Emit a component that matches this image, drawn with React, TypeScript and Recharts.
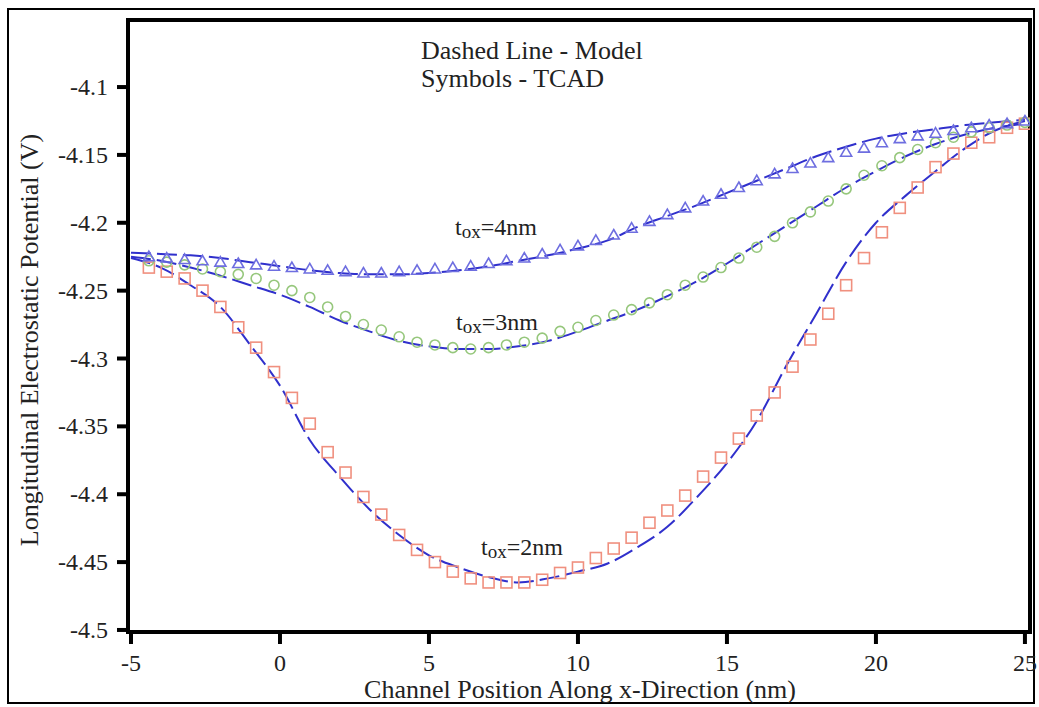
import { ComposedChart, Line, Scatter, XAxis, YAxis, ReferenceArea } from 'recharts';

// TCAD sample positions (nm)
const tcadX = [
  -4.4, -3.8, -3.2, -2.6, -2.0, -1.4, -0.8, -0.2, 0.4, 1.0,
  1.6, 2.2, 2.8, 3.4, 4.0, 4.6, 5.2, 5.8, 6.4, 7.0,
  7.6, 8.2, 8.8, 9.4, 10.0, 10.6, 11.2, 11.8, 12.4, 13.0,
  13.6, 14.2, 14.8, 15.4, 16.0, 16.6, 17.2, 17.8, 18.4, 19.0,
  19.6, 20.2, 20.8, 21.4, 22.0, 22.6, 23.2, 23.8, 24.4, 25.0,
];

const tcad2nm = [
  -4.233, -4.236, -4.241, -4.25, -4.262, -4.277, -4.292, -4.31, -4.329, -4.348,
  -4.369, -4.384, -4.402, -4.415, -4.43, -4.441, -4.45, -4.457, -4.462, -4.465,
  -4.465, -4.465, -4.463, -4.458, -4.454, -4.447, -4.44, -4.432, -4.421, -4.412,
  -4.401, -4.387, -4.373, -4.359, -4.342, -4.325, -4.306, -4.286, -4.267, -4.246,
  -4.226, -4.207, -4.189, -4.174, -4.159, -4.149, -4.141, -4.137, -4.13, -4.127,
];

const tcad3nm = [
  -4.228, -4.229, -4.231, -4.234, -4.236, -4.238, -4.241, -4.246, -4.25, -4.255,
  -4.262, -4.269, -4.275, -4.279, -4.284, -4.288, -4.29, -4.292, -4.293, -4.292,
  -4.29, -4.288, -4.285, -4.28, -4.277, -4.272, -4.268, -4.264, -4.259, -4.253,
  -4.246, -4.24, -4.233, -4.226, -4.218, -4.21, -4.2, -4.192, -4.184, -4.175,
  -4.165, -4.158, -4.152, -4.146, -4.141, -4.137, -4.133, -4.13, -4.128, -4.126,
];

const tcad4nm = [
  -4.225, -4.226, -4.227, -4.228, -4.229, -4.23, -4.231, -4.232, -4.233, -4.234,
  -4.235, -4.236, -4.237, -4.237, -4.236, -4.235, -4.234, -4.233, -4.232, -4.23,
  -4.228, -4.226, -4.223, -4.22, -4.217, -4.213, -4.209, -4.204, -4.199, -4.194,
  -4.189, -4.184, -4.179, -4.174, -4.169, -4.164, -4.16, -4.156, -4.152, -4.148,
  -4.145, -4.141, -4.138, -4.136, -4.134, -4.132, -4.13, -4.128, -4.127, -4.125,
];

// model positions (nm)
const modelX = [
  -5, -4, -3, -2, -1, 0, 1, 2, 3, 4, 5, 6, 7, 8, 9, 10,
  11, 12, 13, 14, 15, 16, 17, 18, 19, 20, 21, 22, 23, 24, 25,
];

const model2nm = [
  -4.226, -4.233, -4.246, -4.262, -4.29, -4.32, -4.36, -4.387, -4.411, -4.43, -4.445,
  -4.454, -4.461, -4.465, -4.462, -4.457, -4.451, -4.439, -4.424, -4.402, -4.377,
  -4.346, -4.305, -4.267, -4.229, -4.2, -4.18, -4.162, -4.145, -4.132, -4.125,
];

const model3nm = [
  -4.225, -4.228, -4.233, -4.239, -4.246, -4.253, -4.262, -4.272, -4.28, -4.287, -4.291,
  -4.293, -4.293, -4.291, -4.287, -4.28, -4.272, -4.264, -4.254, -4.243, -4.23,
  -4.216, -4.202, -4.188, -4.174, -4.162, -4.151, -4.142, -4.135, -4.13, -4.127,
];

const model4nm = [
  -4.222, -4.223, -4.224, -4.226, -4.229, -4.232, -4.235, -4.237, -4.238, -4.238, -4.237,
  -4.235, -4.232, -4.228, -4.224, -4.219, -4.213, -4.203, -4.195, -4.187, -4.178,
  -4.169, -4.16, -4.151, -4.144, -4.138, -4.134, -4.131, -4.128, -4.126, -4.124,
];

const xTicks = [-5, 0, 5, 10, 15, 20, 25];
const yTicks = [-4.5, -4.45, -4.4, -4.35, -4.3, -4.25, -4.2, -4.15, -4.1];

const X_DOMAIN = [-5.1, 25.17];
const Y_DOMAIN = [-4.5015, -4.0506];

const toPoints = (xs: number[], ys: number[]) => xs.map((x, i) => ({ x, y: ys[i] }));

const SERIF = '"Liberation Serif", "Times New Roman", serif';
const LINE = '#3030cc';
const TEXT = '#222';

const Square = (p: any) => (
  <rect x={p.cx - 5.5} y={p.cy - 5.5} width={11} height={11} fill="none" stroke="#f0907f" strokeWidth={1.6} />
);
const Circle = (p: any) => (
  <circle cx={p.cx} cy={p.cy} r={5} fill="none" stroke="#96c77c" strokeWidth={1.6} />
);
const Triangle = (p: any) => (
  <path
    d={`M${p.cx},${p.cy - 5.5} L${p.cx + 5.5},${p.cy + 4} L${p.cx - 5.5},${p.cy + 4} Z`}
    fill="none"
    stroke="#6e6ee0"
    strokeWidth={1.6}
  />
);

const XTick = (p: any) => (
  <text x={p.x} y={p.y} dy={17} textAnchor="middle" fontFamily={SERIF} fontSize={24} fill={TEXT}>
    {p.payload.value}
  </text>
);
const YTick = (p: any) => (
  <text x={p.x} y={p.y} dy={8} textAnchor="end" fontFamily={SERIF} fontSize={24} fill={TEXT}>
    {p.payload.value}
  </text>
);

const Tox = ({ n, left, top }: { n: number; left: number; top: number }) => (
  <div style={{ position: 'absolute', left, top, fontSize: 24, lineHeight: '28px', color: TEXT, whiteSpace: 'nowrap' }}>
    t<span style={{ fontSize: 19, position: 'relative', top: 3 }}>ox</span>={n}nm
  </div>
);

export default function App() {
  return (
    <div style={{ position: 'absolute', left: 0, top: 0, width: 1039, height: 704, background: '#fff', fontFamily: SERIF }}>
      <div
        style={{
          position: 'absolute',
          left: 7,
          top: 8,
          width: 1028,
          height: 696,
          border: '2px solid #000',
          boxSizing: 'border-box',
        }}
      />
      <div style={{ position: 'absolute', left: 0, top: 0 }}>
        <ComposedChart width={1039} height={704} margin={{ top: 20, right: 9, bottom: 12, left: 0 }}>
          <XAxis
            xAxisId="b"
            type="number"
            dataKey="x"
            domain={X_DOMAIN}
            ticks={xTicks}
            allowDataOverflow
            height={60}
            axisLine={false}
            tickLine={{ stroke: '#000', strokeWidth: 4 }}
            tickSize={12}
            tick={<XTick />}
            tickMargin={10}
          />
          <YAxis
            yAxisId="l"
            type="number"
            domain={Y_DOMAIN}
            ticks={yTicks}
            allowDataOverflow
            width={128}
            axisLine={false}
            tickLine={{ stroke: '#000', strokeWidth: 4 }}
            tickSize={11}
            tick={<YTick />}
            tickMargin={9}
          />
          <Scatter xAxisId="b" yAxisId="l" data={toPoints(tcadX, tcad2nm)} dataKey="y" shape={Square} isAnimationActive={false} />
          <Scatter xAxisId="b" yAxisId="l" data={toPoints(tcadX, tcad3nm)} dataKey="y" shape={Circle} isAnimationActive={false} />
          <Scatter xAxisId="b" yAxisId="l" data={toPoints(tcadX, tcad4nm)} dataKey="y" shape={Triangle} isAnimationActive={false} />
          <Line xAxisId="b" yAxisId="l" data={toPoints(modelX, model2nm)} dataKey="y" type="monotone" stroke={LINE} strokeWidth={2} strokeDasharray="20 6" dot={false} isAnimationActive={false} />
          <Line xAxisId="b" yAxisId="l" data={toPoints(modelX, model3nm)} dataKey="y" type="monotone" stroke={LINE} strokeWidth={2} strokeDasharray="20 6" dot={false} isAnimationActive={false} />
          <Line xAxisId="b" yAxisId="l" data={toPoints(modelX, model4nm)} dataKey="y" type="monotone" stroke={LINE} strokeWidth={2} strokeDasharray="20 6" dot={false} isAnimationActive={false} />
          <ReferenceArea
            xAxisId="b"
            yAxisId="l"
            x1={X_DOMAIN[0]}
            x2={X_DOMAIN[1]}
            y1={Y_DOMAIN[0]}
            y2={Y_DOMAIN[1]}
            fill="none"
            fillOpacity={0}
            stroke="#000"
            strokeWidth={4}
            ifOverflow="visible"
          />
        </ComposedChart>
      </div>
      <div style={{ position: 'absolute', left: 421, top: 37, fontSize: 26, lineHeight: '28px', color: TEXT, whiteSpace: 'nowrap' }}>
        Dashed Line - Model
        <br />
        Symbols - TCAD
      </div>
      <Tox n={4} left={455} top={213} />
      <Tox n={3} left={456} top={308} />
      <Tox n={2} left={481} top={533} />
      <div
        style={{
          position: 'absolute',
          left: 580,
          top: 690,
          transform: 'translate(-50%, -50%)',
          fontSize: 26,
          lineHeight: '26px',
          color: TEXT,
          whiteSpace: 'nowrap',
        }}
      >
        Channel Position Along x-Direction (nm)
      </div>
      <div
        style={{
          position: 'absolute',
          left: 30,
          top: 340,
          transform: 'translate(-50%, -50%) rotate(-90deg)',
          fontSize: 26,
          color: TEXT,
          whiteSpace: 'nowrap',
        }}
      >
        Longitudinal Electrostatic Potential (V)
      </div>
    </div>
  );
}
